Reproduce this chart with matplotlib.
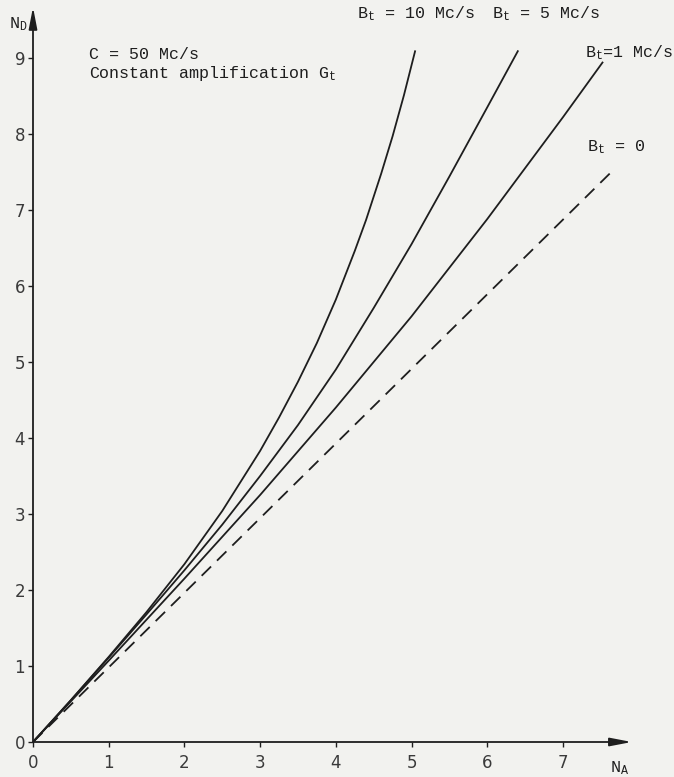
import matplotlib
matplotlib.use("Agg")
import matplotlib.pyplot as plt

# ---- data ----
x_ticks = [0, 1, 2, 3, 4, 5, 6, 7]
y_ticks = [0, 1, 2, 3, 4, 5, 6, 7, 8, 9]

b10_x = [0, 0.5, 1, 1.5, 2, 2.5, 3, 3.25, 3.5, 3.75, 4, 4.25, 4.4, 4.6, 4.75, 4.9, 5.05]
b10_y = [0, 0.55, 1.12, 1.71, 2.34, 3.04, 3.83, 4.27, 4.74, 5.25, 5.82, 6.46, 6.87, 7.48, 7.97, 8.51, 9.1]

b5_x = [0, 0.5, 1, 1.5, 2, 2.5, 3, 3.5, 4, 4.5, 5, 5.5, 6, 6.41]
b5_y = [0, 0.55, 1.11, 1.68, 2.26, 2.86, 3.5, 4.17, 4.9, 5.71, 6.55, 7.44, 8.35, 9.1]

b1_x = [0, 1, 2, 3, 4, 5, 6, 7, 7.53]
b1_y = [0, 1.07, 2.15, 3.25, 4.4, 5.6, 6.88, 8.22, 8.95]

b0_x = [0, 7.67]
b0_y = [0, 7.53]

label_b10 = "B$_{\\mathrm{t}}$ = 10 Mc/s"
label_b5 = "B$_{\\mathrm{t}}$ = 5 Mc/s"
label_b1 = "B$_{\\mathrm{t}}$=1 Mc/s"
label_b0 = "B$_{\\mathrm{t}}$ = 0"
note1 = "C = 50 Mc/s"
note2 = "Constant amplification G$_{\\mathrm{t}}$"

# ---- style ----
plt.rcParams["mathtext.fontset"] = "custom"
plt.rcParams["mathtext.rm"] = "Liberation Mono"
plt.rcParams["mathtext.it"] = "Liberation Mono"
plt.rcParams["lines.scale_dashes"] = False

ink = "#1e1e1e"
bg = "#f2f2ef"
mono = "Liberation Mono"

W, H = 674, 777
fig = plt.figure(figsize=(W / 100, H / 100), dpi=100)
fig.patch.set_facecolor(bg)

ox, oy = 33, 742          # origin pixel (from top-left)
sx, sy = 75.7, 76.0       # pixels per unit
ax = fig.add_axes([ox / W, (H - oy) / H, (W - ox) / W, oy / H])
ax.set_facecolor(bg)
ax.set_xlim(0, (W - ox) / sx)
ax.set_ylim(0, oy / sy)
for s in ax.spines.values():
    s.set_visible(False)

# axes with arrows
arrow = dict(arrowstyle="-|>,head_length=1.3,head_width=0.25", lw=1.3,
             color=ink, shrinkA=0, shrinkB=0)
ax.annotate("", xy=(7.91, 0), xytext=(0, 0), arrowprops=arrow,
            annotation_clip=False)
ax.annotate("", xy=(0, 9.67), xytext=(0, 0), arrowprops=arrow,
            annotation_clip=False)

ax.set_xticks(x_ticks)
ax.set_yticks(y_ticks)
ax.set_xticklabels([str(v) for v in x_ticks])
ax.set_yticklabels([str(v) for v in y_ticks])
ax.tick_params(axis="both", direction="out", length=3.6, width=1.0,
               color=ink, labelcolor="#3a3a3a", labelsize=12)
ax.tick_params(axis="x", pad=5)
ax.tick_params(axis="y", pad=2)

# curves
ax.plot(b10_x, b10_y, color=ink, lw=1.3, solid_capstyle="butt")
ax.plot(b5_x, b5_y, color=ink, lw=1.3, solid_capstyle="butt")
ax.plot(b1_x, b1_y, color=ink, lw=1.3, solid_capstyle="butt")
ax.plot(b0_x, b0_y, color=ink, lw=1.3, dashes=(9.5, 6), dash_capstyle="butt")

# texts
fs = 12
ax.text(4.28, 9.59, label_b10, family=mono, fontsize=fs, color=ink, va="center")
ax.text(6.06, 9.59, label_b5, family=mono, fontsize=fs, color=ink, va="center")
ax.text(7.29, 9.07, label_b1, family=mono, fontsize=fs, color=ink, va="center")
ax.text(7.32, 7.83, label_b0, family=mono, fontsize=fs, color=ink, va="center")
ax.text(0.74, 9.04, note1, family=mono, fontsize=fs, color=ink, va="center")
ax.text(0.74, 8.79, note2, family=mono, fontsize=fs, color=ink, va="center")

ax.text(-0.2, 9.45, "N$_{\\mathrm{D}}$", family=mono, fontsize=fs, color=ink,
        ha="center", va="center")
ax.text(7.75, -0.34, "N$_{\\mathrm{A}}$", family=mono, fontsize=fs, color=ink,
        ha="center", va="center")

fig.savefig("out.png", dpi=100, facecolor=bg)
